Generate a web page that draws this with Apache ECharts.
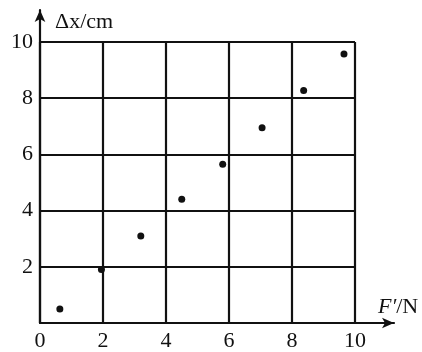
<!DOCTYPE html>
<html>
<head>
<meta charset="utf-8">
<script src="https://cdn.jsdelivr.net/npm/echarts@6/dist/echarts.min.js"></script>
<style>
  html, body { margin: 0; padding: 0; background: #fff; }
  #chart { width: 422px; height: 352px; }
</style>
</head>
<body>
<div id="chart"></div>
<script>
  // measured points, F'/N vs Δx/cm
  const forceValues = [0.63, 1.95, 3.2, 4.5, 5.8, 7.05, 8.37, 9.65];
  const stretchValues = [0.5, 1.9, 3.1, 4.4, 5.65, 6.95, 8.27, 9.57];
  const axisMax = 10;
  const tickStep = 2;

  const points = forceValues.map((f, i) => [f, stretchValues[i]]);
  const font = '"Liberation Serif", "Times New Roman", serif';
  const labelStyle = { color: '#111', fontFamily: font, fontSize: 22 };
  const gridLine = { show: true, lineStyle: { color: '#111', width: 2.2 } };

  let myChart = echarts.init(document.getElementById('chart'));
  let option = {
    backgroundColor: '#fff',
    animation: false,
    grid: [
      { left: 40, right: 67, top: 42, bottom: 29 },
      { left: 40, right: 28, top: 10, bottom: 29 }
    ],
    xAxis: [
      {
        type: 'value', gridIndex: 0, min: 0, max: axisMax, interval: tickStep,
        axisLine: { show: false },
        axisTick: { show: false },
        splitLine: gridLine,
        axisLabel: { ...labelStyle, margin: 7 }
      },
      {
        type: 'value', gridIndex: 1, min: 0, max: 1,
        axisLine: { show: true, symbol: ['none', 'arrow'], symbolSize: [8, 12], lineStyle: { color: '#111', width: 2.2 } },
        axisTick: { show: false },
        axisLabel: { show: false },
        splitLine: { show: false },
        name: '{i|F′}/N',
        nameLocation: 'end',
        nameGap: -16,
        nameTextStyle: {
          ...labelStyle, align: 'left', verticalAlign: 'bottom', padding: [0, 0, 5, 0],
          rich: { i: { fontFamily: font, fontSize: 22, fontStyle: 'italic', color: '#111' } }
        }
      }
    ],
    yAxis: [
      {
        type: 'value', gridIndex: 0, min: 0, max: axisMax, interval: tickStep,
        axisLine: { show: false },
        axisTick: { show: false },
        splitLine: gridLine,
        axisLabel: { ...labelStyle, margin: 7, formatter: v => (v === 0 ? '' : v) }
      },
      {
        type: 'value', gridIndex: 1, min: 0, max: 1,
        axisLine: { show: true, symbol: ['none', 'arrow'], symbolSize: [8, 12], lineStyle: { color: '#111', width: 2.2 } },
        axisTick: { show: false },
        axisLabel: { show: false },
        splitLine: { show: false },
        name: 'Δx/cm',
        nameLocation: 'end',
        nameGap: -12,
        nameTextStyle: { ...labelStyle, align: 'left', verticalAlign: 'middle', padding: [0, 0, 0, 15] }
      }
    ],
    series: [
      {
        type: 'scatter',
        xAxisIndex: 0,
        yAxisIndex: 0,
        data: points,
        symbolSize: 7,
        itemStyle: { color: '#111', opacity: 1 }
      }
    ]
  };
  option && myChart.setOption(option);
</script>
</body>
</html>
